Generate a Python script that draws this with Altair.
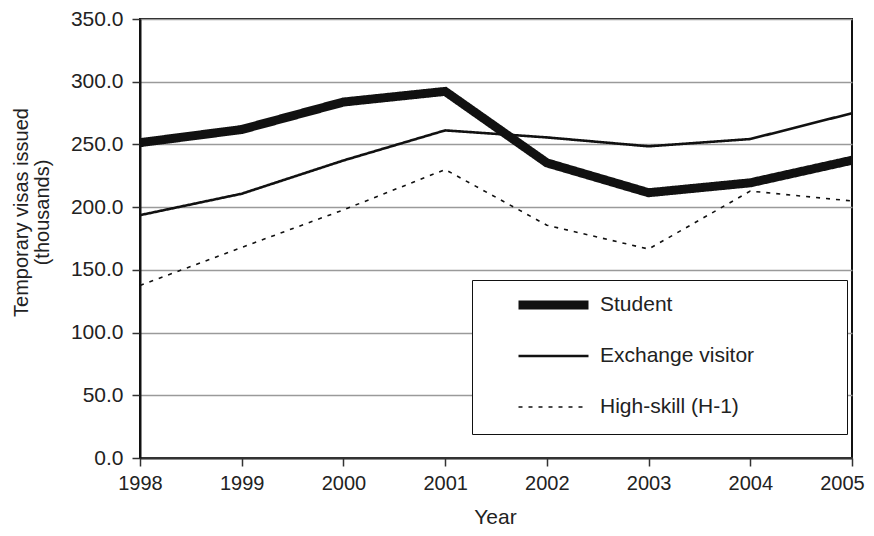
import altair as alt
import pandas as pd

years = [1998, 1999, 2000, 2001, 2002, 2003, 2004, 2005]
series_names = ["High-skill (H-1)", "Exchange visitor", "Student"]
student = [251.4, 261.9, 283.8, 292.3, 235.3, 211.5, 219.4, 237.4]
exchange = [193.6, 210.7, 237.2, 261.2, 255.6, 248.5, 254.3, 274.9]
high_skill = [137.6, 167.9, 197.8, 230.0, 185.6, 166.6, 212.8, 204.9]
y_ticks = [0, 50, 100, 150, 200, 250, 300, 350]

values = {"High-skill (H-1)": high_skill, "Exchange visitor": exchange, "Student": student}
rows = []
for name in series_names:
    for yr, v in zip(years, values[name]):
        rows.append({"Year": yr, "Value": v, "Series": name})
df = pd.DataFrame(rows)

legend_order = ["Student", "Exchange visitor", "High-skill (H-1)"]
FONT = "Liberation Sans"
TXT = "#222222"

pad = "\u00a0" * 13 + "\u200b"
lab_expr = "datum.label + '" + pad + "'"

chart = alt.Chart(df).mark_line(color="#111111", strokeJoin="miter").encode(
    x=alt.X("Year:Q",
            scale=alt.Scale(domain=[1998, 2005], nice=False, zero=False),
            axis=alt.Axis(values=years, format="d", title="Year",
                          labelFontSize=20, titleFontSize=21, labelFont=FONT, titleFont=FONT,
                          labelColor=TXT, titleColor=TXT, titleFontWeight="normal",
                          tickSize=8, labelPadding=7, grid=False, labelFlush=False,
                          labelOffset={"condition": {"test": "datum.value == 2005", "value": -10}, "value": 0},
                          domainColor="#333333", domainWidth=2, tickColor="#333333", tickWidth=1.5,
                          titleX=355, titleY=59, titleBaseline="middle", titleAnchor="middle")),
    y=alt.Y("Value:Q",
            scale=alt.Scale(domain=[0, 350], nice=False),
            axis=alt.Axis(values=y_ticks, format=".1f",
                          title=["Temporary visas issued", "(thousands)"],
                          labelFontSize=21, titleFontSize=20, labelFont=FONT, titleFont=FONT,
                          labelColor=TXT, titleColor=TXT, titleFontWeight="normal",
                          tickSize=8, labelPadding=9, grid=True, gridColor="#9a9a9a", gridWidth=1.3,
                          domainColor="#111111", domainWidth=2, tickColor="#333333", tickWidth=1.5,
                          titleAngle=-90, titleX=-129, titleY=193, titleAlign="center",
                          titleBaseline="top", titleLineHeight=21)),
    strokeWidth=alt.StrokeWidth("Series:N",
                                scale=alt.Scale(type="ordinal", domain=legend_order, range=[9, 2.6, 1.6]),
                                legend=alt.Legend(title=None, labelExpr=lab_expr)),
    strokeDash=alt.StrokeDash("Series:N",
                              scale=alt.Scale(domain=legend_order, range=[[1, 0], [1, 0], [4, 6]]),
                              legend=alt.Legend(title=None, labelExpr=lab_expr)),
    order=alt.Order("Year:Q"),
).properties(
    width=712,
    height=439,
    autosize=alt.AutoSizeParams(type="none"),
    padding={"left": 132, "top": 11, "right": 14, "bottom": 70},
).configure_view(
    stroke="#111111", strokeWidth=2
).configure_legend(
    orient="none", legendX=332, legendY=261,
    strokeColor="#111111", fillColor="white", padding=17, cornerRadius=0,
    symbolType="stroke", symbolSize=4900, symbolStrokeColor="#111111",
    symbolOffset=25, labelOffset=7, clipHeight=16, rowPadding=30,
    labelFontSize=21, labelFont=FONT, labelColor=TXT, labelLimit=500,
)

chart.save("out.html", embed_options={"renderer": "svg", "actions": False})
